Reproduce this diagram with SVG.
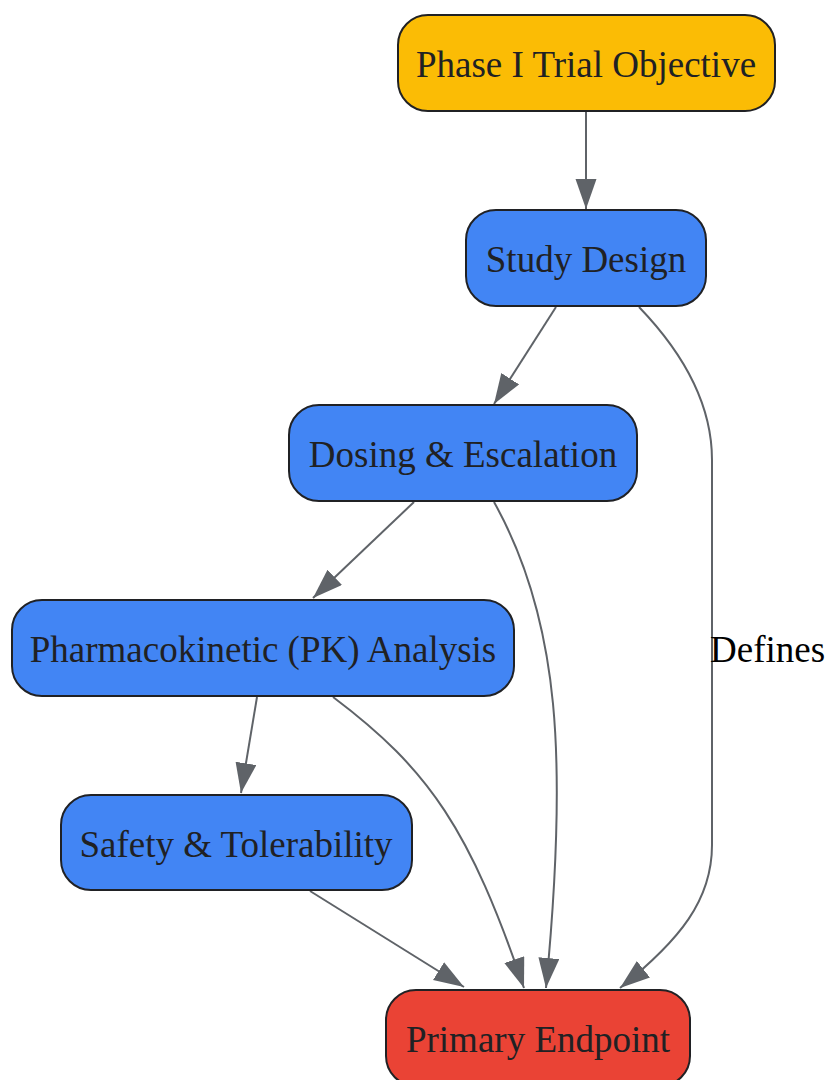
<svg xmlns="http://www.w3.org/2000/svg" width="828" height="1080" viewBox="0 0 828 1080">
<style>
.n rect{stroke:#202124;stroke-width:2}
.n text{font-family:"Liberation Serif",serif;font-size:37px;fill:#202124;text-anchor:middle}
.e path{fill:none;stroke:#5f6368;stroke-width:2}
.lbl{font-family:"Liberation Serif",serif;font-size:37px;fill:#000}
</style>
<defs>
<marker id="ah" markerUnits="userSpaceOnUse" markerWidth="32" markerHeight="22" refX="30" refY="10.5" orient="auto">
<path d="M0,0 L30,10.5 L0,21 Z" fill="#5f6368"/>
</marker>
</defs>
<rect width="828" height="1080" fill="#fff"/>
<g id="connectors" class="e">
<path d="M586,111 L586,209" marker-end="url(#ah)"/>
<path d="M556,307 L494,404" marker-end="url(#ah)"/>
<path d="M639,307 C690,360 712,410 712,460 L712,845 C712,900 680,940 620,988" marker-end="url(#ah)"/>
<path d="M414,502 L313,598" marker-end="url(#ah)"/>
<path d="M494,502 C560,620 568,760 546,988" marker-end="url(#ah)"/>
<path d="M257,697 L241,793" marker-end="url(#ah)"/>
<path d="M333,697 C430,770 470,830 524,988" marker-end="url(#ah)"/>
<path d="M310,891 L464,987" marker-end="url(#ah)"/>
<text class="lbl" x="710" y="662">Defines</text>
</g>
<g id="objective" class="n"><rect x="398" y="15" width="377" height="96" rx="30" fill="#FBBC05"/><text x="586" y="77">Phase I Trial Objective</text></g>
<g id="design" class="n"><rect x="466" y="210" width="240" height="96" rx="30" fill="#4285F4"/><text x="586" y="272">Study Design</text></g>
<g id="dosing" class="n"><rect x="289" y="405" width="348" height="96" rx="30" fill="#4285F4"/><text x="463" y="467">Dosing &amp; Escalation</text></g>
<g id="pk" class="n"><rect x="12" y="600" width="502" height="96" rx="30" fill="#4285F4"/><text x="263" y="662">Pharmacokinetic (PK) Analysis</text></g>
<g id="safety" class="n"><rect x="61" y="795" width="351" height="95" rx="30" fill="#4285F4"/><text x="236" y="857">Safety &amp; Tolerability</text></g>
<g id="endpoint" class="n"><rect x="386" y="990" width="304" height="96" rx="30" fill="#EA4335"/><text x="538" y="1052">Primary Endpoint</text></g>
</svg>
